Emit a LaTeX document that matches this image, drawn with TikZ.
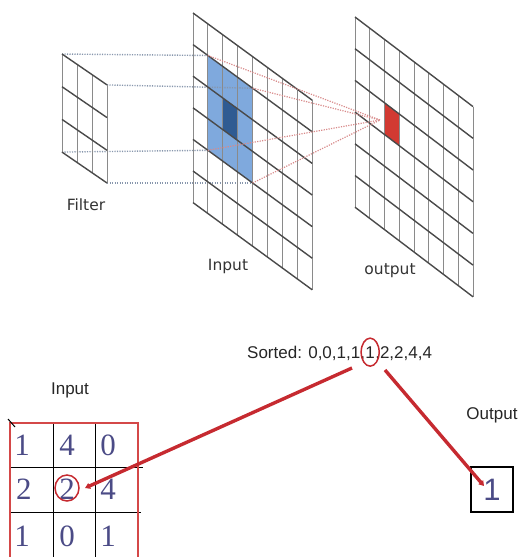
\documentclass[tikz,border=0pt]{standalone}
\usepackage{fontspec}
\setmainfont{Liberation Sans}
\newfontfamily\dejavu{DejaVu Sans}
\newfontfamily\serifdig{Liberation Serif}
\usetikzlibrary{arrows.meta}
\definecolor{gridv}{HTML}{8A8A8A}
\definecolor{gridh}{HTML}{4A4A4A}
\definecolor{lblue}{HTML}{7FA9DD}
\definecolor{dblue}{HTML}{2F5B92}
\definecolor{rcell}{HTML}{D23A32}
\definecolor{dotblue}{HTML}{8796AC}
\definecolor{dotred}{HTML}{D88A8A}
\definecolor{arrred}{HTML}{C62A30}
\definecolor{digblue}{HTML}{4B4B86}
\definecolor{matred}{HTML}{D44848}
\newcommand\slgrid[7]{%
  \foreach \i in {0,...,#6}{\draw[vline] ({#1+\i*#3},{#2+\i*#4}) -- ++(0,{#7*#5});}
  \foreach \j in {0,...,#7}{\draw[hline] (#1,{#2+\j*#5}) -- ++({#6*#3},{#6*#4});}
}
\tikzset{
  vline/.style={draw=gridv, line width=1pt},
  hline/.style={draw=gridh, line width=1.4pt},
  dotb/.style={draw=dotblue, line width=1.4pt, dash pattern=on 1.2pt off 1.3pt},
  dotr/.style={draw=dotred, line width=1.2pt, dash pattern=on 1.2pt off 1.3pt},
  toplabel/.style={font=\dejavu\fontsize{15.5}{18}\selectfont, text=black!80, inner sep=0pt},
  botlabel/.style={font=\fontsize{17}{20}\selectfont, text=black!85, inner sep=0pt},
  digit/.style={font=\serifdig\fontsize{31}{34}\selectfont, text=digblue, inner sep=0pt},
  redarrow/.style={draw=arrred, line width=3.4pt, -{Triangle[length=5pt,width=6pt]}},
  ring/.style={draw=arrred, line width=1.5pt},
}
\begin{document}
\begin{tikzpicture}[x=1pt,y=-1pt]
\useasboundingbox (0,0) rectangle (519,557);
% ---------- top: convolution illustration ----------
\coordinate (F00) at (62,54);
\coordinate (F30) at (107,84.9);
\coordinate (F03) at (62,152.1);
\coordinate (F33) at (107,183);
\coordinate (I11) at (207.9,55.5);
\coordinate (I41) at (252.6,88.2);
\coordinate (I14) at (207.9,150.3);
\coordinate (I44) at (252.6,183);
\coordinate (I22) at (222.8,98.0);
\coordinate (I32) at (237.7,108.9);
\coordinate (I33) at (237.7,140.5);
\coordinate (I23) at (222.8,129.6);
\coordinate (O22) at (384.5,102.8);
\coordinate (O32) at (399.25,114);
\coordinate (O33) at (399.25,145.7);
\coordinate (O23) at (384.5,134.5);
\coordinate (conv) at (380,120);
% fills
\fill[lblue] (I11) -- (I41) -- (I44) -- (I14) -- cycle;
\fill[dblue] (I22) -- (I32) -- (I33) -- (I23) -- cycle;
\fill[rcell] (O22) -- (O32) -- (O33) -- (O23) -- cycle;
% dotted projection lines
\draw[dotb] (F00) -- (I11);
\draw[dotb] (F30) -- (I41);
\draw[dotb] (F03) -- (I14);
\draw[dotb] (F33) -- (I44);
% grids
\slgrid{62}{54}{15}{10.3}{32.7}{3}{3}
\slgrid{193}{13}{14.9}{10.9}{31.6}{8}{6}
\slgrid{355}{17}{14.75}{11.2}{31.7}{8}{6}
% red dotted lines
\draw[dotr] (I11) -- (conv);
\draw[dotr] (I41) -- (conv);
\draw[dotr] (I14) -- (conv);
\draw[dotr] (I44) -- (conv);
% labels
\node[toplabel] (lfilter) at (86,205) {Filter};
\node[toplabel] (linput) at (228,266) {Input};
\node[toplabel] (loutput) at (390,271) {output};
% ---------- bottom: median filter ----------
\node[botlabel] (binput) at (70,390) {Input};
\node[botlabel] (boutput) at (492,415) {Output};
\node[botlabel, anchor=base west] (sa) at (247,358) {Sorted: 0,0,1,1,};
\node[botlabel, anchor=base west] (s5) at (sa.base east) {1};
\node[botlabel, anchor=base west] (sb) at (s5.base east) {,2,2,4,4};
\draw[ring] (s5.center) ellipse (9 and 14);
% matrix lines
\draw[black, line width=0.9pt] (10,467) -- (143,467);
\draw[black, line width=0.9pt] (10,512) -- (141,512);
\draw[black, line width=0.9pt] (53,423) -- (53,557);
\draw[black, line width=0.9pt] (95,423) -- (95,557);
\draw[matred, line width=1.8pt] (10,557) -- (10,423) -- (138,423) -- (138,557);
\draw[black, line width=1pt] (8,419) -- (15,427);
% digits
\node[digit] (m11) at (22,445) {1};
\node[digit] (m12) at (67,445) {4};
\node[digit] (m13) at (108,445) {0};
\node[digit] (m21) at (24,489) {2};
\node[digit] (m22) at (67,489) {2};
\node[digit] (m23) at (108,489) {4};
\node[digit] (m31) at (22,536) {1};
\node[digit] (m32) at (67,536) {0};
\node[digit] (m33) at (108,536) {1};
\draw[ring] (67,488) ellipse (12 and 13);
% output box
\node[draw=black, line width=1.1pt, minimum width=42pt, minimum height=45pt, inner sep=0pt,
      font=\fontsize{31}{34}\selectfont, text=digblue] (obox) at (492,489.5) {1};
% red arrows
\coordinate (r1a) at (352,368);
\coordinate (r1b) at (85,488);
\coordinate (r2a) at (385,370);
\coordinate (r2b) at (484,486);
\draw[redarrow] (r1a) -- (r1b);
\draw[redarrow] (r2a) -- (r2b);
\end{tikzpicture}
\end{document}
